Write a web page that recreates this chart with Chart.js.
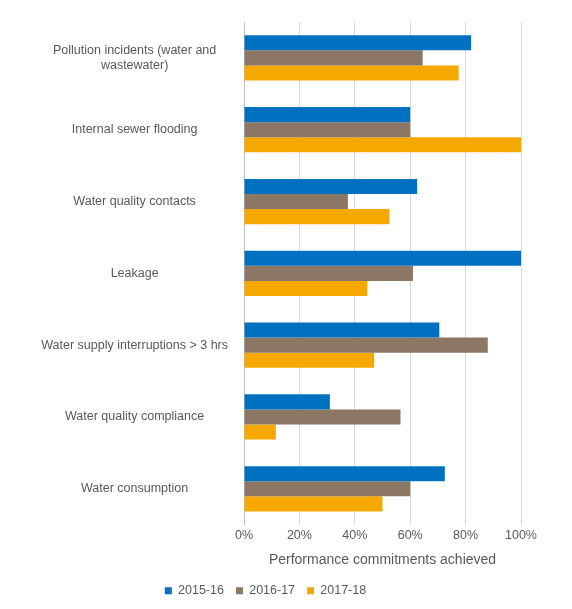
<!DOCTYPE html>
<html><head><meta charset="utf-8">
<script src="https://cdn.jsdelivr.net/npm/chart.js@4/dist/chart.umd.min.js"></script>
<style>html,body{margin:0;padding:0;background:#fff}#w{width:572px;height:609px}</style>
</head><body><div id="w"><canvas id="c"></canvas></div>
<script>
const categories=[["Pollution incidents (water and","wastewater)"],"Internal sewer flooding","Water quality contacts","Leakage","Water supply interruptions > 3 hrs","Water quality compliance","Water consumption"];
const s2015=[82,60,62.5,100,70.5,31,72.5];
const s2016=[64.5,60,37.5,61,88,56.5,60];
const s2017=[77.5,100,52.5,44.5,47,11.5,50];
const seriesNames=["2015-16","2016-17","2017-18"];
const tickLabels=["0%","20%","40%","60%","80%","100%"];
Chart.defaults.font.family="'Liberation Sans', Arial, sans-serif";
Chart.defaults.color="#595959";
new Chart(document.getElementById('c'),{type:'bar',
data:{labels:categories,datasets:[
{label:seriesNames[0],data:s2015,backgroundColor:'#0070C0'},
{label:seriesNames[1],data:s2016,backgroundColor:'#8B7764'},
{label:seriesNames[2],data:s2017,backgroundColor:'#F5A800'}]},
options:{indexAxis:'y',responsive:true,maintainAspectRatio:false,animation:false,
layout:{padding:{left:10,right:51,top:22,bottom:2}},
datasets:{bar:{categoryPercentage:0.63,barPercentage:1}},
scales:{x:{min:0,max:100,ticks:{stepSize:20,font:{size:12.5},callback:(v,i)=>tickLabels[i]},
grid:{color:'#d9d9d9',drawTicks:false},border:{display:false},
title:{display:true,text:'Performance commitments achieved',font:{size:14},padding:{top:6}}},
y:{grid:{display:false},border:{color:'#bfbfbf'},afterFit:(s)=>{s.width=234;},
ticks:{font:{size:12.5},padding:8,crossAlign:'center'}}},
plugins:{legend:{position:'bottom',labels:{boxWidth:7,boxHeight:7,font:{size:12.5},padding:12},
 },tooltip:{enabled:false}}}});
</script></body></html>
